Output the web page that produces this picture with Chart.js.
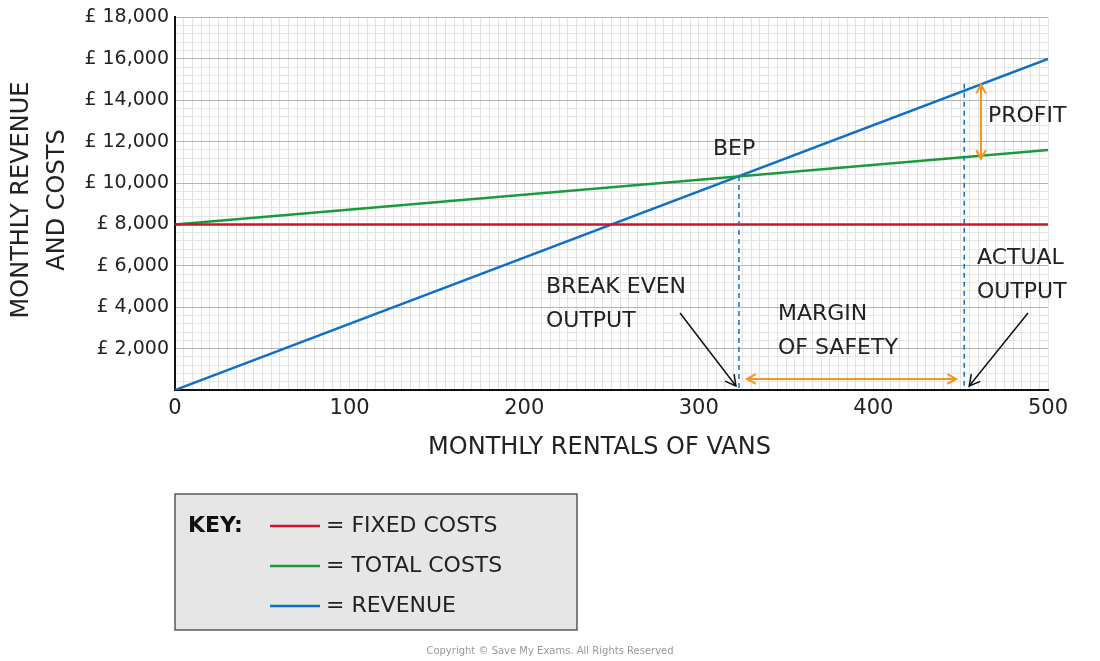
<!DOCTYPE html>
<html><head><meta charset="utf-8">
<script src="https://cdn.jsdelivr.net/npm/chart.js@4"></script>
<style>body{margin:0;background:#fff}#wrap{width:1100px;height:661px}</style>
</head><body><div id="wrap"><canvas id="c"></canvas></div>
<script>
var units = [0, 500];
var fixedCosts = [8000, 8000];
var totalCosts = [8000, 11600];
var revenue = [0, 16000];
var bepOutput = 323;
var actualOutput = 452;
var keyLabels = ["= FIXED COSTS", "= TOTAL COSTS", "= REVENUE"];
var keyColors = ["#d0122d", "#1a9a3a", "#0f6fc6"];

function pts(ys) { return units.map(function (x, i) { return { x: x, y: ys[i] }; }); }
var F = "DejaVu Sans";

function arrowHead(c, x, y, ang, len) {
  c.beginPath();
  c.moveTo(x - len * Math.cos(ang - 0.5), y - len * Math.sin(ang - 0.5));
  c.lineTo(x, y);
  c.lineTo(x - len * Math.cos(ang + 0.5), y - len * Math.sin(ang + 0.5));
  c.stroke();
}
function dblArrow(c, x1, y1, x2, y2) {
  c.beginPath(); c.moveTo(x1, y1); c.lineTo(x2, y2); c.stroke();
  var a = Math.atan2(y2 - y1, x2 - x1);
  arrowHead(c, x2, y2, a, 10); arrowHead(c, x1, y1, a + Math.PI, 10);
}

var annot = {
  id: "annot",
  afterDraw: function (ch) {
    var c = ch.ctx, xs = ch.scales.x, ys = ch.scales.y, a = ch.chartArea;
    c.save();
    c.fillStyle = "#222"; c.font = "24px " + F; c.textAlign = "center"; c.textBaseline = "middle";
    c.fillText("MONTHLY RENTALS OF VANS", (a.left + a.right) / 2 - 12, 448);
    c.save(); c.translate(30, 200); c.rotate(-Math.PI / 2);
    c.fillText("MONTHLY REVENUE", 0, -8); c.fillText("AND COSTS", 0, 28); c.restore();
    var bx = xs.getPixelForValue(bepOutput), axp = xs.getPixelForValue(actualOutput);
    var bepY = ys.getPixelForValue(revenue[1] / 500 * bepOutput);
    var revA = ys.getPixelForValue(revenue[1] / 500 * actualOutput);
    var tcA = ys.getPixelForValue(8000 + 3600 / 500 * actualOutput);
    c.strokeStyle = "#0f6fc6"; c.lineWidth = 1.5; c.setLineDash([5, 4]);
    c.beginPath(); c.moveTo(bx, bepY); c.lineTo(bx, a.bottom);
    c.moveTo(axp, ys.getPixelForValue(14800)); c.lineTo(axp, a.bottom); c.stroke();
    c.setLineDash([]);
    c.strokeStyle = "#f7941d"; c.lineWidth = 2;
    dblArrow(c, bx + 8, 379, axp - 8, 379);
    dblArrow(c, 981, revA - 6, 981, tcA + 2);
    c.strokeStyle = "#111"; c.lineWidth = 1.5;
    c.beginPath(); c.moveTo(680, 313); c.lineTo(bx - 3, 386); c.stroke();
    arrowHead(c, bx - 3, 386, Math.atan2(386 - 313, bx - 3 - 680), 12);
    c.beginPath(); c.moveTo(1028, 313); c.lineTo(axp + 5, 386); c.stroke();
    arrowHead(c, axp + 5, 386, Math.atan2(386 - 313, axp + 5 - 1028), 12);
    c.fillStyle = "#222"; c.font = "22px " + F; c.textAlign = "left";
    c.fillText("BEP", 713, 149);
    c.fillText("PROFIT", 988, 116);
    c.fillText("BREAK EVEN", 546, 287); c.fillText("OUTPUT", 546, 321);
    c.fillText("MARGIN", 778, 314); c.fillText("OF SAFETY", 778, 348);
    c.fillText("ACTUAL", 977, 258); c.fillText("OUTPUT", 977, 292);
    c.fillStyle = "#e6e6e6"; c.fillRect(175, 494, 402, 136);
    c.strokeStyle = "#333"; c.lineWidth = 1.2; c.strokeRect(175, 494, 402, 136);
    c.fillStyle = "#111"; c.font = "bold 22px " + F; c.fillText("KEY:", 188, 526);
    c.font = "22px " + F;
    keyLabels.forEach(function (t, i) {
      var y = 526 + i * 40;
      c.strokeStyle = keyColors[i]; c.lineWidth = 2.5;
      c.beginPath(); c.moveTo(270, y); c.lineTo(320, y); c.stroke();
      c.fillStyle = "#222"; c.fillText(t, 326, y);
    });
    c.fillStyle = "#999"; c.font = "10px " + F; c.textAlign = "center";
    c.fillText("Copyright © Save My Exams. All Rights Reserved", 550, 651);
    c.restore();
  }
};

new Chart(document.getElementById("c"), {
  type: "line",
  data: {
    datasets: [
      { label: "Fixed costs", data: pts(fixedCosts), borderColor: keyColors[0] },
      { label: "Total costs", data: pts(totalCosts), borderColor: keyColors[1] },
      { label: "Revenue", data: pts(revenue), borderColor: keyColors[2] }
    ]
  },
  options: {
    responsive: true, maintainAspectRatio: false, animation: false,
    elements: { point: { radius: 0 }, line: { borderWidth: 2.5 } },
    layout: { padding: { top: 2, right: 52 } },
    plugins: { legend: { display: false }, tooltip: { enabled: false } },
    scales: {
      x: {
        type: "linear", min: 0, max: 500,
        afterFit: function (s) { s.height = 271; },
        ticks: { stepSize: 5, autoSkip: false, maxRotation: 0, color: "#222", font: { family: F, size: 21 }, padding: 6,
          callback: function (v) { return v % 100 === 0 ? v : ""; } },
        grid: { drawTicks: false, color: "#e2e2e2" },
        border: { color: "#111", width: 2 }
      },
      y: {
        min: 0, max: 18000,
        afterFit: function (s) { s.width = 175; },
        ticks: { stepSize: 400, autoSkip: false, color: "#222", font: { family: F, size: 19 }, padding: 6,
          callback: function (v) { return v % 2000 === 0 && v > 0 ? "£ " + v.toLocaleString("en-GB") : ""; } },
        grid: { drawTicks: false, color: function (x) { return x.tick.value % 2000 === 0 ? "#b5b5b5" : "#e4e4e4"; } },
        border: { color: "#111", width: 2 }
      }
    }
  },
  plugins: [annot]
});
</script></body></html>
